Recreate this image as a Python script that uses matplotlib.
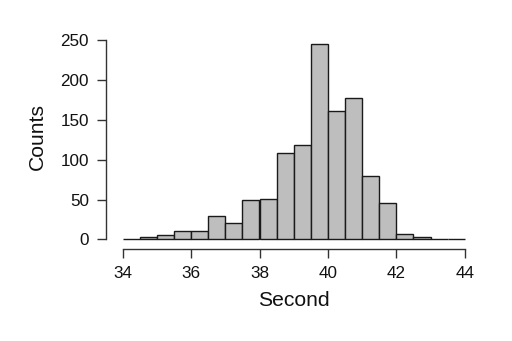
import matplotlib
matplotlib.use("Agg")
import matplotlib.pyplot as plt
import numpy as np

# Histogram of lap times, bin width 0.5 s
bin_edges = [34.0, 34.5, 35.0, 35.5, 36.0, 36.5, 37.0, 37.5, 38.0, 38.5, 39.0,
             39.5, 40.0, 40.5, 41.0, 41.5, 42.0, 42.5, 43.0, 43.5, 44.0]
counts = [0, 3, 6, 10, 11, 29, 20, 49, 51, 108, 119,
          245, 161, 177, 80, 45, 7, 3, 0, 0]
x_ticks = [34, 36, 38, 40, 42, 44]
y_ticks = [0, 50, 100, 150, 200, 250]

plt.rcParams['font.family'] = ['Liberation Sans', 'DejaVu Sans']

W, H = 512, 341
DPI = 100
PX = 72 / DPI  # points per pixel
fig = plt.figure(figsize=(W / DPI, H / DPI), dpi=DPI)
x0, x1 = 122.7, 464.7
y0, y1 = 239.3, 40.3
ax = fig.add_axes([x0 / W, 1 - y0 / H, (x1 - x0) / W, (y0 - y1) / H])

edges = np.array(bin_edges)
widths = np.diff(edges)
ax.bar(edges[:-1], counts, width=widths, align='edge', color='#BEBEBE',
       edgecolor='#1a1a1a', linewidth=1.0, clip_on=False)

ax.set_xlim(34, 44)
ax.set_ylim(0, 250)

for s in ['top', 'right']:
    ax.spines[s].set_visible(False)
ax.spines['bottom'].set_position(('outward', 10 * PX))
ax.spines['left'].set_position(('outward', 17 * PX))
ax.spines['bottom'].set_bounds(34, 44)
ax.spines['left'].set_bounds(0, 250)
for s in ['bottom', 'left']:
    ax.spines[s].set_color('#333333')
    ax.spines[s].set_linewidth(1.0)

ax.set_xticks(x_ticks)
ax.set_yticks(y_ticks)
ax.tick_params(axis='both', length=9 * PX, width=1.0, color='#333333',
               labelsize=12.3, labelcolor='#111111')
ax.tick_params(axis='x', pad=5.4)
ax.tick_params(axis='y', pad=5.5)

fig.text(293.5 / W, 1 - 300 / H, 'Second', fontsize=15.2, color='#111111',
         ha='center', va='center')
fig.text(37.5 / W, 1 - 136.5 / H, 'Counts', fontsize=15.2, color='#111111',
         ha='center', va='center', rotation=90)

fig.savefig('out.png', dpi=DPI)
